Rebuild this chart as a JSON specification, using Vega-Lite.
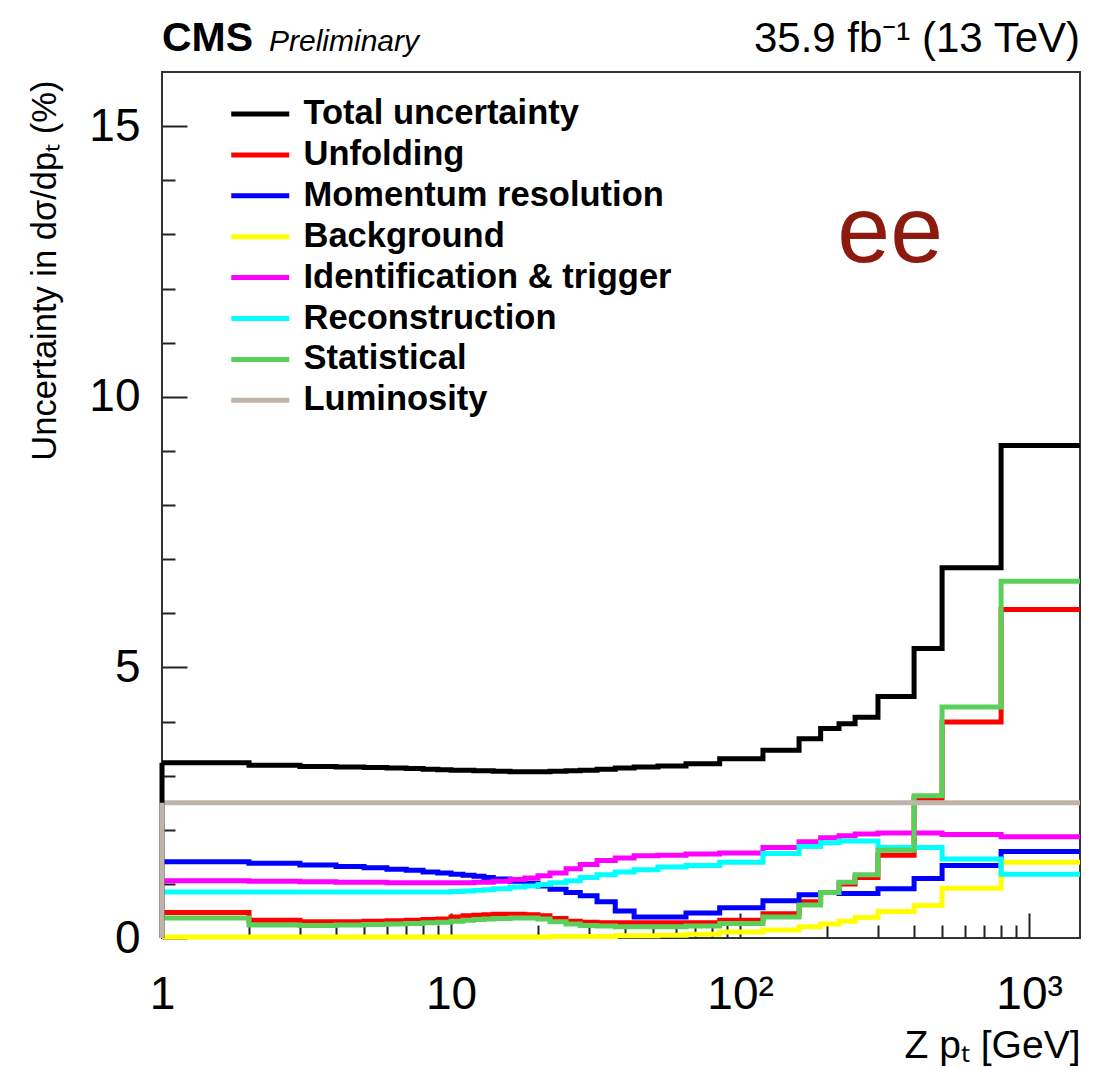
{
  "$schema": "https://vega.github.io/schema/vega-lite/v6.json",
  "width": 918,
  "height": 866,
  "autosize": {"type": "none"},
  "padding": {"left": 162, "top": 72, "right": 21, "bottom": 130},
  "background": "#ffffff",
  "config": {"view": {"stroke": "#333333", "strokeWidth": 2}, "font": "Liberation Sans", "axis": {"grid": false, "domain": false}},
  "resolve": {"axis": {"x": "independent", "y": "independent"}},
  "datasets": {
    "bins": [
      {"lo": 1, "hi": 2, "Total uncertainty": 3.24, "Unfolding": 0.47, "Momentum resolution": 1.41, "Background": 0.02, "Identification & trigger": 1.06, "Reconstruction": 0.85, "Statistical": 0.37, "Luminosity": 2.5},
      {"lo": 2, "hi": 3, "Total uncertainty": 3.19, "Unfolding": 0.33, "Momentum resolution": 1.38, "Background": 0.02, "Identification & trigger": 1.05, "Reconstruction": 0.85, "Statistical": 0.24, "Luminosity": 2.5},
      {"lo": 3, "hi": 4, "Total uncertainty": 3.17, "Unfolding": 0.30, "Momentum resolution": 1.35, "Background": 0.02, "Identification & trigger": 1.04, "Reconstruction": 0.85, "Statistical": 0.23, "Luminosity": 2.5},
      {"lo": 4, "hi": 5, "Total uncertainty": 3.16, "Unfolding": 0.30, "Momentum resolution": 1.32, "Background": 0.02, "Identification & trigger": 1.03, "Reconstruction": 0.85, "Statistical": 0.24, "Luminosity": 2.5},
      {"lo": 5, "hi": 6, "Total uncertainty": 3.15, "Unfolding": 0.31, "Momentum resolution": 1.30, "Background": 0.02, "Identification & trigger": 1.03, "Reconstruction": 0.85, "Statistical": 0.25, "Luminosity": 2.5},
      {"lo": 6, "hi": 7, "Total uncertainty": 3.14, "Unfolding": 0.32, "Momentum resolution": 1.27, "Background": 0.02, "Identification & trigger": 1.02, "Reconstruction": 0.85, "Statistical": 0.26, "Luminosity": 2.5},
      {"lo": 7, "hi": 8, "Total uncertainty": 3.13, "Unfolding": 0.33, "Momentum resolution": 1.25, "Background": 0.02, "Identification & trigger": 1.02, "Reconstruction": 0.85, "Statistical": 0.27, "Luminosity": 2.5},
      {"lo": 8, "hi": 9, "Total uncertainty": 3.12, "Unfolding": 0.34, "Momentum resolution": 1.22, "Background": 0.02, "Identification & trigger": 1.02, "Reconstruction": 0.85, "Statistical": 0.28, "Luminosity": 2.5},
      {"lo": 9, "hi": 10, "Total uncertainty": 3.11, "Unfolding": 0.35, "Momentum resolution": 1.20, "Background": 0.02, "Identification & trigger": 1.02, "Reconstruction": 0.85, "Statistical": 0.29, "Luminosity": 2.5},
      {"lo": 10, "hi": 11, "Total uncertainty": 3.10, "Unfolding": 0.39, "Momentum resolution": 1.18, "Background": 0.02, "Identification & trigger": 1.02, "Reconstruction": 0.86, "Statistical": 0.31, "Luminosity": 2.5},
      {"lo": 11, "hi": 12, "Total uncertainty": 3.10, "Unfolding": 0.41, "Momentum resolution": 1.16, "Background": 0.02, "Identification & trigger": 1.02, "Reconstruction": 0.87, "Statistical": 0.33, "Luminosity": 2.5},
      {"lo": 12, "hi": 13, "Total uncertainty": 3.09, "Unfolding": 0.42, "Momentum resolution": 1.14, "Background": 0.02, "Identification & trigger": 1.03, "Reconstruction": 0.88, "Statistical": 0.34, "Luminosity": 2.5},
      {"lo": 13, "hi": 14, "Total uncertainty": 3.09, "Unfolding": 0.43, "Momentum resolution": 1.12, "Background": 0.02, "Identification & trigger": 1.03, "Reconstruction": 0.89, "Statistical": 0.35, "Luminosity": 2.5},
      {"lo": 14, "hi": 16, "Total uncertainty": 3.08, "Unfolding": 0.44, "Momentum resolution": 1.09, "Background": 0.02, "Identification & trigger": 1.05, "Reconstruction": 0.91, "Statistical": 0.36, "Luminosity": 2.5},
      {"lo": 16, "hi": 18, "Total uncertainty": 3.07, "Unfolding": 0.44, "Momentum resolution": 1.05, "Background": 0.02, "Identification & trigger": 1.08, "Reconstruction": 0.94, "Statistical": 0.37, "Luminosity": 2.5},
      {"lo": 18, "hi": 20, "Total uncertainty": 3.07, "Unfolding": 0.43, "Momentum resolution": 1.01, "Background": 0.02, "Identification & trigger": 1.11, "Reconstruction": 0.96, "Statistical": 0.37, "Luminosity": 2.5},
      {"lo": 20, "hi": 22, "Total uncertainty": 3.07, "Unfolding": 0.41, "Momentum resolution": 0.96, "Background": 0.02, "Identification & trigger": 1.15, "Reconstruction": 0.99, "Statistical": 0.35, "Luminosity": 2.5},
      {"lo": 22, "hi": 25, "Total uncertainty": 3.08, "Unfolding": 0.36, "Momentum resolution": 0.90, "Background": 0.03, "Identification & trigger": 1.20, "Reconstruction": 1.02, "Statistical": 0.30, "Luminosity": 2.5},
      {"lo": 25, "hi": 28, "Total uncertainty": 3.09, "Unfolding": 0.31, "Momentum resolution": 0.84, "Background": 0.03, "Identification & trigger": 1.28, "Reconstruction": 1.06, "Statistical": 0.26, "Luminosity": 2.5},
      {"lo": 28, "hi": 32, "Total uncertainty": 3.10, "Unfolding": 0.29, "Momentum resolution": 0.78, "Background": 0.03, "Identification & trigger": 1.36, "Reconstruction": 1.12, "Statistical": 0.23, "Luminosity": 2.5},
      {"lo": 32, "hi": 37, "Total uncertainty": 3.12, "Unfolding": 0.28, "Momentum resolution": 0.67, "Background": 0.03, "Identification & trigger": 1.43, "Reconstruction": 1.17, "Statistical": 0.22, "Luminosity": 2.5},
      {"lo": 37, "hi": 43, "Total uncertainty": 3.14, "Unfolding": 0.28, "Momentum resolution": 0.50, "Background": 0.04, "Identification & trigger": 1.48, "Reconstruction": 1.22, "Statistical": 0.21, "Luminosity": 2.5},
      {"lo": 43, "hi": 52, "Total uncertainty": 3.16, "Unfolding": 0.28, "Momentum resolution": 0.39, "Background": 0.04, "Identification & trigger": 1.52, "Reconstruction": 1.26, "Statistical": 0.21, "Luminosity": 2.5},
      {"lo": 52, "hi": 65, "Total uncertainty": 3.18, "Unfolding": 0.28, "Momentum resolution": 0.39, "Background": 0.05, "Identification & trigger": 1.53, "Reconstruction": 1.31, "Statistical": 0.21, "Luminosity": 2.5},
      {"lo": 65, "hi": 85, "Total uncertainty": 3.22, "Unfolding": 0.28, "Momentum resolution": 0.46, "Background": 0.07, "Identification & trigger": 1.55, "Reconstruction": 1.34, "Statistical": 0.22, "Luminosity": 2.5},
      {"lo": 85, "hi": 120, "Total uncertainty": 3.31, "Unfolding": 0.33, "Momentum resolution": 0.56, "Background": 0.11, "Identification & trigger": 1.57, "Reconstruction": 1.40, "Statistical": 0.27, "Luminosity": 2.5},
      {"lo": 120, "hi": 160, "Total uncertainty": 3.47, "Unfolding": 0.45, "Momentum resolution": 0.69, "Background": 0.15, "Identification & trigger": 1.67, "Reconstruction": 1.56, "Statistical": 0.39, "Luminosity": 2.5},
      {"lo": 160, "hi": 190, "Total uncertainty": 3.68, "Unfolding": 0.67, "Momentum resolution": 0.80, "Background": 0.21, "Identification & trigger": 1.78, "Reconstruction": 1.69, "Statistical": 0.61, "Luminosity": 2.5},
      {"lo": 190, "hi": 220, "Total uncertainty": 3.87, "Unfolding": 0.84, "Momentum resolution": 0.84, "Background": 0.26, "Identification & trigger": 1.85, "Reconstruction": 1.76, "Statistical": 0.84, "Luminosity": 2.5},
      {"lo": 220, "hi": 250, "Total uncertainty": 3.96, "Unfolding": 1.00, "Momentum resolution": 0.82, "Background": 0.31, "Identification & trigger": 1.89, "Reconstruction": 1.79, "Statistical": 1.03, "Luminosity": 2.5},
      {"lo": 250, "hi": 300, "Total uncertainty": 4.08, "Unfolding": 1.12, "Momentum resolution": 0.82, "Background": 0.38, "Identification & trigger": 1.92, "Reconstruction": 1.79, "Statistical": 1.17, "Luminosity": 2.5},
      {"lo": 300, "hi": 400, "Total uncertainty": 4.46, "Unfolding": 1.53, "Momentum resolution": 0.91, "Background": 0.49, "Identification & trigger": 1.94, "Reconstruction": 1.67, "Statistical": 1.62, "Luminosity": 2.5},
      {"lo": 400, "hi": 500, "Total uncertainty": 5.35, "Unfolding": 2.58, "Momentum resolution": 1.10, "Background": 0.60, "Identification & trigger": 1.94, "Reconstruction": 1.67, "Statistical": 2.63, "Luminosity": 2.5},
      {"lo": 500, "hi": 800, "Total uncertainty": 6.84, "Unfolding": 3.99, "Momentum resolution": 1.34, "Background": 0.92, "Identification & trigger": 1.91, "Reconstruction": 1.46, "Statistical": 4.27, "Luminosity": 2.5},
      {"lo": 800, "hi": 1500, "Total uncertainty": 9.10, "Unfolding": 6.07, "Momentum resolution": 1.60, "Background": 1.40, "Identification & trigger": 1.87, "Reconstruction": 1.18, "Statistical": 6.59, "Luminosity": 2.5}
    ]
  },
  "layer": [
    {
      "data": {"name": "bins"},
      "transform": [
        {"fold": ["Total uncertainty", "Unfolding", "Momentum resolution", "Background", "Identification & trigger", "Reconstruction", "Statistical", "Luminosity"], "as": ["s", "v"]},
        {"fold": ["lo", "hi"], "as": ["kind", "pt"]}
      ],
      "mark": {"type": "line", "strokeWidth": 5, "strokeCap": "butt", "strokeJoin": "miter"},
      "encoding": {
        "x": {
          "field": "pt", "type": "quantitative",
          "scale": {"type": "log", "domain": [1, 1500], "nice": false},
          "axis": {
            "orient": "bottom", "values": [1, 10, 100, 1000], "tickSize": -25, "tickWidth": 2, "tickColor": "#222222",
            "labelExpr": "datum.value == 1 ? '1' : datum.value == 10 ? '10' : datum.value == 100 ? '10²' : '10³'",
            "labelFont": "Liberation Sans", "labelFontSize": 46, "labelColor": "#000000", "labelPadding": 59,
            "labelFlush": false, "labelOverlap": false, "labelBound": false, "labelBaseline": "top",
            "title": "Z pₜ [GeV]", "titleFont": "Liberation Sans", "titleFontSize": 39, "titleFontWeight": "normal", "titleColor": "#000000",
            "titleX": 918, "titleY": 107, "titleAlign": "right", "titleBaseline": "middle", "titleAnchor": "end"
          }
        },
        "y": {
          "field": "v", "type": "quantitative",
          "scale": {"domain": [0, 16], "nice": false, "zero": true},
          "axis": {
            "orient": "left", "values": [0, 5, 10, 15], "tickSize": -25, "tickWidth": 2, "tickColor": "#222222",
            "labelFont": "Liberation Sans", "labelFontSize": 46, "labelColor": "#000000", "labelPadding": 47,
            "labelFlush": false, "labelOverlap": false, "labelBound": false,
            "title": "Uncertainty in dσ/dpₜ (%)", "titleFont": "Liberation Sans", "titleFontSize": 34.5, "titleFontWeight": "normal", "titleColor": "#000000",
            "titleAngle": 270, "titleX": -117, "titleY": 8, "titleAlign": "right", "titleBaseline": "middle", "titleAnchor": "end"
          }
        },
        "color": {
          "field": "s", "type": "nominal",
          "scale": {
            "domain": ["Total uncertainty", "Unfolding", "Momentum resolution", "Background", "Identification & trigger", "Reconstruction", "Statistical", "Luminosity"],
            "range": ["#000000", "#ff0000", "#0000ff", "#ffff00", "#ff00ff", "#00ffff", "#5ad05a", "#bfb4a9"]
          },
          "legend": {
            "orient": "none", "legendX": 81, "legendY": 24.75, "title": null, "padding": 0,
            "symbolType": "M-2.9,0H2.9", "symbolSize": 400, "symbolStrokeWidth": 5,
            "labelFont": "Liberation Sans", "labelFontSize": 34.5, "labelFontWeight": "bold", "labelColor": "#000000",
            "labelOffset": 26, "labelLimit": 700, "rowPadding": 5.9
          }
        },
        "order": [{"field": "pt", "type": "quantitative"}, {"field": "kind", "type": "nominal"}]
      }
    },
    {
      "data": {"name": "bins"},
      "transform": [{"filter": "datum.lo == 1"}],
      "mark": {"type": "rule", "color": "#000000", "strokeWidth": 5},
      "encoding": {
        "x": {
          "field": "lo", "type": "quantitative",
          "scale": {"type": "log", "domain": [1, 1500], "nice": false},
          "axis": {
            "orient": "bottom", "values": [2, 3, 4, 5, 6, 7, 8, 9, 20, 30, 40, 50, 60, 70, 80, 90, 200, 300, 400, 500, 600, 700, 800, 900],
            "tickSize": -13, "tickWidth": 2, "tickColor": "#222222", "labels": false, "title": null
          }
        },
        "y": {
          "field": "Total uncertainty", "type": "quantitative",
          "axis": {
            "orient": "left", "values": [1, 2, 3, 4, 6, 7, 8, 9, 11, 12, 13, 14],
            "tickSize": -13, "tickWidth": 2, "tickColor": "#222222", "labels": false, "title": null
          }
        },
        "y2": {"datum": 0}
      }
    },
    {
      "data": {"name": "bins"},
      "transform": [{"filter": "datum.lo == 1"}],
      "mark": {"type": "rule", "color": "#bfb4a9", "strokeWidth": 5},
      "encoding": {
        "x": {"field": "lo", "type": "quantitative", "axis": null},
        "y": {"field": "Luminosity", "type": "quantitative", "axis": null},
        "y2": {"datum": 0}
      }
    },
    {
      "data": {"values": [{}]},
      "mark": {"type": "text", "text": "CMS", "font": "Liberation Sans", "fontWeight": "bold", "fontSize": 41, "align": "left", "baseline": "alphabetic", "dy": -21, "color": "#000000"},
      "encoding": {"x": {"datum": 1, "type": "quantitative", "axis": null}, "y": {"datum": 16, "type": "quantitative", "axis": null}}
    },
    {
      "data": {"values": [{}]},
      "mark": {"type": "text", "text": "Preliminary", "font": "Liberation Sans", "fontStyle": "italic", "fontSize": 30, "align": "left", "baseline": "alphabetic", "dx": 107, "dy": -21, "color": "#000000"},
      "encoding": {"x": {"datum": 1, "type": "quantitative", "axis": null}, "y": {"datum": 16, "type": "quantitative", "axis": null}}
    },
    {
      "data": {"values": [{}]},
      "mark": {"type": "text", "text": "35.9 fb⁻¹ (13 TeV)", "font": "Liberation Sans", "fontSize": 42, "align": "right", "baseline": "alphabetic", "dy": -20, "color": "#000000"},
      "encoding": {"x": {"datum": 1500, "type": "quantitative", "axis": null}, "y": {"datum": 16, "type": "quantitative", "axis": null}}
    },
    {
      "data": {"values": [{}]},
      "mark": {"type": "text", "text": "ee", "font": "Liberation Sans", "fontSize": 95, "align": "left", "baseline": "alphabetic", "color": "#8c1a0f"},
      "encoding": {"x": {"datum": 217, "type": "quantitative", "axis": null}, "y": {"datum": 12.49, "type": "quantitative", "axis": null}}
    }
  ]
}
